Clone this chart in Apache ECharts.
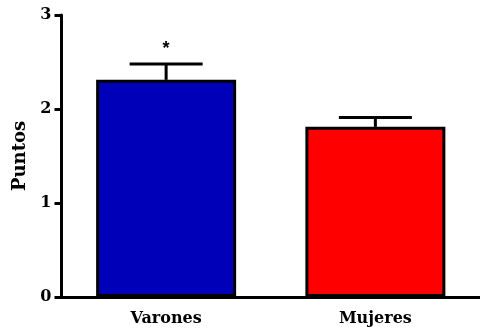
<!DOCTYPE html>
<html><head><meta charset="utf-8">
<script src="https://cdn.jsdelivr.net/npm/echarts@6/dist/echarts.min.js"></script>
<style>html,body{margin:0;padding:0;background:#fff}#c{width:480px;height:328px}</style>
</head><body><div id="c"></div>
<script>
const categories = ['Varones', 'Mujeres'];
const means = [2.31, 1.81];
const errTop = [2.48, 1.91];
const marks = ['*', ''];
const yTicks = [0, 1, 2, 3];
const colors = ['#0000b8', '#ff0000'];

const font = 'DejaVu Serif';
const chart = echarts.init(document.getElementById('c'));
chart.setOption({
  animation: false,
  grid: { left: 61.5, top: 15, bottom: 31, width: 422 },
  xAxis: {
    type: 'category', data: categories,
    axisLine: { lineStyle: { color: '#000', width: 3 } },
    axisTick: { alignWithLabel: true, length: 7, lineStyle: { color: '#000', width: 3 } },
    axisLabel: { color: '#000', fontFamily: font, fontWeight: 'bold', fontSize: 16, margin: 14 }
  },
  yAxis: {
    type: 'value', min: yTicks[0], max: yTicks[yTicks.length - 1], interval: 1,
    name: 'Puntos', nameLocation: 'middle', nameGap: 32, nameRotate: 90,
    nameTextStyle: { color: '#000', fontFamily: font, fontWeight: 'bold', fontSize: 18 },
    splitLine: { show: false },
    axisLine: { show: true, lineStyle: { color: '#000', width: 3 } },
    axisTick: { show: true, length: 7, lineStyle: { color: '#000', width: 3 } },
    axisLabel: { color: '#000', fontFamily: font, fontWeight: 'bold', fontSize: 16, margin: 10 }
  },
  series: [
    {
      type: 'bar', barWidth: 140,
      data: means.map((v, i) => ({ value: v, itemStyle: { color: colors[i] } })),
      itemStyle: { borderColor: '#000', borderWidth: 3 },
      z: 2
    },
    {
      type: 'custom', z: 1,
      data: categories.map((c, i) => [i, means[i], errTop[i], marks[i]]),
      renderItem: function (params, api) {
        const base = api.coord([api.value(0), api.value(1)]);
        const top = api.coord([api.value(0), api.value(2)]);
        const half = 36.5;
        const st = { stroke: '#000', lineWidth: 3 };
        const ch = [
          { type: 'line', shape: { x1: base[0], y1: base[1], x2: top[0], y2: top[1] }, style: st },
          { type: 'line', shape: { x1: top[0] - half, y1: top[1], x2: top[0] + half, y2: top[1] }, style: st }
        ];
        const m = marks[params.dataIndex];
        if (m) {
          ch.push({ type: 'text', style: { text: m, x: top[0], y: top[1] - 15, align: 'center', verticalAlign: 'middle', fill: '#000', font: 'bold 18px "Liberation Sans"' } });
        }
        return { type: 'group', children: ch };
      }
    }
  ]
});
</script></body></html>
